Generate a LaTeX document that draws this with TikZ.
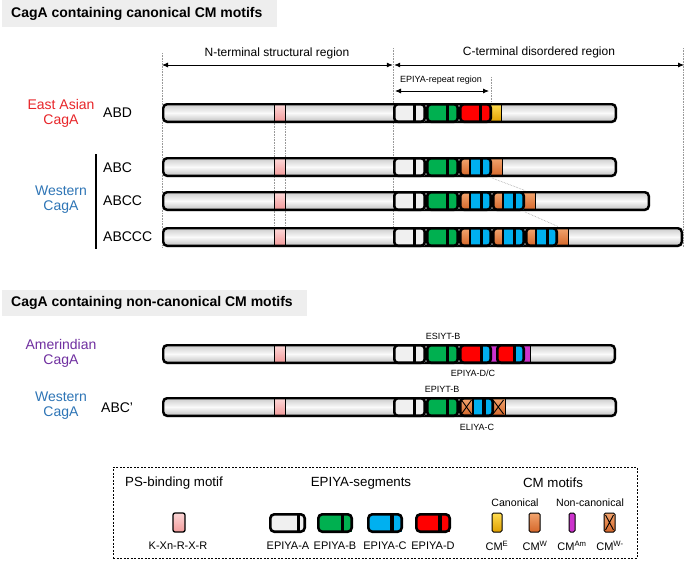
\documentclass[tikz,border=0pt]{standalone}
\usepackage{fontspec}
\setmainfont{Liberation Sans}
\usetikzlibrary{arrows.meta}
\definecolor{titlebg}{HTML}{EEEEEE}
\definecolor{eastred}{HTML}{E8262A}
\definecolor{westblue}{HTML}{2E75B6}
\definecolor{amerpurple}{HTML}{7030A0}
\definecolor{agray}{HTML}{F0F0F0}
\definecolor{bgreen}{HTML}{00B050}
\definecolor{cblue}{HTML}{00B0F0}
\definecolor{dred}{HTML}{FF0000}
\definecolor{cmwA}{HTML}{F2A46E}
\definecolor{cmwB}{HTML}{D5672A}
\definecolor{cmeA}{HTML}{FFDC50}
\definecolor{cmeB}{HTML}{E0A000}
\definecolor{cmam}{HTML}{CC33CC}
\definecolor{pinkA}{HTML}{FCD6D6}
\definecolor{pinkB}{HTML}{F29C9C}
% gray bar fill and outline
\newcommand\cgBarFill[3]{\shade[top color=gray!45, bottom color=gray!55, middle color=gray!4, rounded corners=4pt] (#1,#3-10) rectangle (#2,#3+10);}
\newcommand\cgBarLine[3]{\draw[line width=2.4pt, rounded corners=4pt] (#1+1.2,#3-8.8) rectangle (#2-1.2,#3+8.8);}
% PS-binding motif in a bar
\newcommand\cgPink[1]{\shade[top color=pinkA, bottom color=pinkB] (274,#1-8) rectangle (285,#1+8);
  \draw[line width=1pt] (274,#1-8)--(274,#1+8) (285,#1-8)--(285,#1+8);}
% EPIYA segment: x0,x1,yc,left colour,right colour,bar x
\newcommand\cgSeg[6]{\fill[#4] (#1+1.5,#3-8.5) rectangle (#6,#3+8.5);
  \fill[#5] (#6,#3-8.5) rectangle (#2-1.5,#3+8.5);
  \draw[line width=3.5pt] (#6,#3-8.5) -- (#6,#3+8.5);
  \draw[line width=2.6pt, rounded corners=3.5pt] (#1+1.3,#3-8.7) rectangle (#2-1.3,#3+8.7);}
% Western EPIYA-C segment with CM-W at its start: x0,x1,yc,orange end,bar x
\newcommand\cgSegC[5]{\shade[top color=cmwA, bottom color=cmwB] (#1+1.5,#3-8.5) rectangle (#4,#3+8.5);
  \fill[cblue] (#4,#3-8.5) rectangle (#2-1.5,#3+8.5);
  \draw[line width=2pt] (#4,#3-8.5)--(#4,#3+8.5);
  \draw[line width=3.5pt] (#5,#3-8.5) -- (#5,#3+8.5);
  \draw[line width=2.6pt, rounded corners=3.5pt] (#1+1.3,#3-8.7) rectangle (#2-1.3,#3+8.7);}
% same with a crossed (W-) CM
\newcommand\cgSegCX[5]{\shade[top color=cmwA, bottom color=cmwB] (#1+1.5,#3-8.5) rectangle (#4,#3+8.5);
  \draw[line width=0.9pt] (#1+2.5,#3-7) -- (#4-1,#3+7) (#1+2.5,#3+7) -- (#4-1,#3-7);
  \fill[cblue] (#4,#3-8.5) rectangle (#2-1.5,#3+8.5);
  \draw[line width=2pt] (#4,#3-8.5)--(#4,#3+8.5);
  \draw[line width=3.5pt] (#5,#3-8.5) -- (#5,#3+8.5);
  \draw[line width=2.6pt, rounded corners=3.5pt] (#1+1.3,#3-8.7) rectangle (#2-1.3,#3+8.7);}
% CM motif inside a bar: x0,x1,yc,top colour,bottom colour
\newcommand\cgCM[5]{\shade[top color=#4, bottom color=#5] (#1,#3-8.8) rectangle (#2,#3+8.8);
  \draw[line width=0.7pt] (#2,#3-8.8) -- (#2,#3+8.8);}
\newcommand\cgCMX[3]{\shade[top color=cmwA, bottom color=cmwB] (#1,#3-8.8) rectangle (#2,#3+8.8);
  \draw[line width=0.9pt] (#1+1,#3-7) -- (#2-1.5,#3+7) (#1+1,#3+7) -- (#2-1.5,#3-7);
  \draw[line width=0.8pt] (#2,#3-8.8) -- (#2,#3+8.8);}
% legend items
\newcommand\cgLegSeg[4]{\fill[#3] (#1+1.5,514.5) rectangle (#4,531.5);
  \fill[#3] (#4,514.5) rectangle (#2-1.5,531.5);
  \draw[line width=3.5pt] (#4,514.5) -- (#4,531.5);
  \draw[line width=2.6pt, rounded corners=4pt] (#1+1.3,514.3) rectangle (#2-1.3,531.7);}
\newcommand\cgLegCM[4]{\shade[top color=#3, bottom color=#4, rounded corners=1.5pt] (#1,513) rectangle (#2,532);
  \draw[line width=1pt, rounded corners=1.5pt] (#1,513) rectangle (#2,532);}
\begin{document}
\begin{tikzpicture}[x=1pt,y=-1pt,
  every node/.style={inner sep=0pt},
  title/.style={font=\fontsize{14}{16}\selectfont\bfseries, anchor=west},
  region/.style={font=\fontsize{12}{14}\selectfont},
  small/.style={font=\fontsize{9}{11}\selectfont},
  strain/.style={font=\fontsize{14}{15}\selectfont, align=center},
  variant/.style={font=\fontsize{14}{16}\selectfont, anchor=west},
  leghead/.style={font=\fontsize{13.3}{15}\selectfont},
  legsub/.style={font=\fontsize{10.6}{12}\selectfont},
  leglab/.style={font=\fontsize{11}{13}\selectfont},
  dotline/.style={draw=gray!80, densely dotted, line width=0.6pt},
  dblarrow/.style={{Latex[length=6pt,width=5pt]}-{Latex[length=6pt,width=5pt]}, line width=0.8pt}]
\useasboundingbox (0,0) rectangle (685,560);
\fill[white] (0,0) rectangle (685,560);
% titles
\fill[titlebg] (2,0) rectangle (277,27);
\node[title] (t1) at (11,14) {CagA containing canonical CM motifs};
\fill[titlebg] (2,290) rectangle (307,316);
\node[title] (t2) at (11,303) {CagA containing non-canonical CM motifs};
% dotted guide lines
\coordinate (g1a) at (162,53);  \coordinate (g1b) at (162,247);
\coordinate (g2a) at (274,113); \coordinate (g2b) at (274,237);
\coordinate (g3a) at (285,113); \coordinate (g3b) at (285,237);
\coordinate (g4a) at (393.5,48);\coordinate (g4b) at (393.5,247);
\coordinate (g5a) at (683.5,48);\coordinate (g5b) at (683.5,247);
\coordinate (g6a) at (491,77);  \coordinate (g6b) at (491,110);
\draw[dotline] (g1a) -- (g1b);
\draw[dotline] (g2a) -- (g2b);
\draw[dotline] (g3a) -- (g3b);
\draw[dotline] (g4a) -- (g4b);
\draw[dotline] (g5a) -- (g5b);
\draw[dotline] (g6a) -- (g6b);
% region arrows
\coordinate (nl) at (162,65); \coordinate (nr) at (392.8,65);
\coordinate (cl) at (394.2,65); \coordinate (cr) at (684,65);
\coordinate (el) at (395,91); \coordinate (er) at (489,91);
\draw[dblarrow] (nl) -- (nr);
\draw[dblarrow] (cl) -- (cr);
\draw[dblarrow] (el) -- (er);
\node[region] (ntext) at (277,53) {N-terminal structural region};
\node[region] (ctext) at (539,52) {C-terminal disordered region};
\node[small] (etext) at (441,80) {EPIYA-repeat region};
% labels
\node[strain, text=eastred] (eas) at (61,113) {East Asian\\CagA};
\node[variant] (abd) at (103,113) {ABD};
\node[strain, text=westblue] (wes) at (61,200) {Western\\CagA};
\coordinate (wl1) at (96,154); \coordinate (wl2) at (96,249);
\draw[line width=1.6pt] (wl1) -- (wl2);
\node[variant] (abc) at (103,168) {ABC};
\node[variant] (abcc) at (103,201) {ABCC};
\node[variant] (abccc) at (103,237) {ABCCC};
\node[strain, text=amerpurple] (ame) at (61,353) {Amerindian\\CagA};
\node[strain, text=westblue] (wes2) at (61,406) {Western\\CagA};
\node[variant] (abcp) at (101,408) {ABC'};
% ---- ABD
\cgBarFill{162}{617}{113}
\cgPink{113}
\cgCM{491}{501}{113}{cmeA}{cmeB}
\cgBarLine{162}{617}{113}
\cgSeg{393}{426}{113}{agray}{agray}{414.5}
\cgSeg{426}{459}{113}{bgreen}{bgreen}{447.5}
\cgSeg{459}{492}{113}{dred}{dred}{480.5}
% ---- ABC
\cgBarFill{162}{617}{167}
\cgPink{167}
\cgCM{491}{502}{167}{cmwA}{cmwB}
\cgBarLine{162}{617}{167}
\cgSeg{393}{426}{167}{agray}{agray}{414.5}
\cgSeg{426}{459}{167}{bgreen}{bgreen}{447.5}
\cgSegC{459}{492}{167}{470}{481.5}
% ---- ABCC
\cgBarFill{162}{650}{201}
\cgPink{201}
\cgCM{524}{535}{201}{cmwA}{cmwB}
\cgBarLine{162}{650}{201}
\cgSeg{393}{426}{201}{agray}{agray}{414.5}
\cgSeg{426}{459}{201}{bgreen}{bgreen}{447.5}
\cgSegC{459}{492}{201}{470}{481.5}
\cgSegC{492}{525}{201}{503}{514.5}
% ---- ABCCC
\cgBarFill{162}{683}{237}
\cgPink{237}
\cgCM{557}{568}{237}{cmwA}{cmwB}
\cgBarLine{162}{683}{237}
\cgSeg{393}{426}{237}{agray}{agray}{414.5}
\cgSeg{426}{459}{237}{bgreen}{bgreen}{447.5}
\cgSegC{459}{492}{237}{470}{481.5}
\cgSegC{492}{525}{237}{503}{514.5}
\cgSegC{525}{558}{237}{536}{547.5}
% diagonal dotted links
\coordinate (d1a) at (492,178); \coordinate (d1b) at (525,190.5);
\coordinate (d2a) at (525,212); \coordinate (d2b) at (558,226.5);
\draw[dotline] (d1a) -- (d1b);
\draw[dotline] (d2a) -- (d2b);
% ---- Amerindian
\cgBarFill{162}{616}{354}
\cgPink{354}
\cgCM{490}{498}{354}{cmam}{cmam}
\cgCM{523}{530.5}{354}{cmam}{cmam}
\cgBarLine{162}{616}{354}
\cgSeg{393}{426}{354}{agray}{agray}{414.5}
\cgSeg{426}{459}{354}{bgreen}{bgreen}{447.5}
\cgSeg{459}{492}{354}{dred}{cblue}{481.5}
\cgSeg{496}{525}{354}{dred}{cblue}{514.5}
\node[small] (esiyt) at (443,336) {ESIYT-B};
\node[small] (epiyadc) at (473,373) {EPIYA-D/C};
% ---- ABC'
\cgBarFill{162}{617}{407}
\cgPink{407}
\cgCMX{492}{505}{407}
\cgBarLine{162}{617}{407}
\cgSeg{393}{426}{407}{agray}{agray}{414.5}
\cgSeg{426}{459}{407}{bgreen}{bgreen}{447.5}
\cgSegCX{459}{494}{407}{472.5}{484}
\node[small] (epiyt) at (442,389) {EPIYT-B};
\node[small] (eliya) at (477,427) {ELIYA-C};
% ---- legend
\node[draw, dash pattern=on 2pt off 1.5pt, line width=0.8pt, minimum width=524pt, minimum height=91pt] (legend) at (375,512.5) {};
\node[leghead] (lh1) at (174,483) {PS-binding motif};
\node[leghead] (lh2) at (361,483) {EPIYA-segments};
\node[leghead] (lh3) at (553,483) {CM motifs};
\node[legsub] (ls1) at (515,503) {Canonical};
\node[legsub] (ls2) at (590,503) {Non-canonical};
\shade[top color=pinkA, bottom color=pinkB, rounded corners=2pt] (173,513) rectangle (185,532);
\draw[line width=1.3pt, rounded corners=2pt] (173,513) rectangle (185,532);
\cgLegSeg{269}{306}{agray}{298.5}
\cgLegSeg{317}{353}{bgreen}{342.5}
\cgLegSeg{367}{403}{cblue}{392}
\cgLegSeg{415}{451}{dred}{440}
\cgLegCM{492}{502}{cmeA}{cmeB}
\cgLegCM{529}{540}{cmwA}{cmwB}
\cgLegCM{569}{575}{cmam}{cmam}
\cgLegCM{604}{615}{cmwA}{cmwB}
\draw[line width=0.9pt] (605.5,515) -- (613.5,530) (605.5,530) -- (613.5,515);
\node[leglab] (l1) at (178,546) {K-Xn-R-X-R};
\node[leglab] (l2) at (288,546) {EPIYA-A};
\node[leglab] (l3) at (335,546) {EPIYA-B};
\node[leglab] (l4) at (385,546) {EPIYA-C};
\node[leglab] (l5) at (433,546) {EPIYA-D};
\node[leglab] (l6) at (497,546) {CM\textsuperscript{E}};
\node[leglab] (l7) at (535,546) {CM\textsuperscript{W}};
\node[leglab] (l8) at (572,546) {CM\textsuperscript{Am}};
\node[leglab] (l9) at (610,546) {CM\textsuperscript{W-}};
\end{tikzpicture}
\end{document}
